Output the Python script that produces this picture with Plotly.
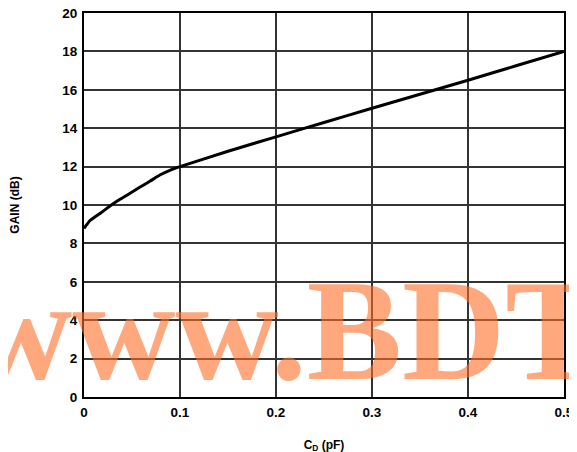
import plotly.graph_objects as go

cd_pf = [0, 0.006, 0.017, 0.027, 0.0375, 0.048, 0.058, 0.069, 0.079, 0.09, 0.1,
         0.15, 0.2, 0.25, 0.3, 0.35, 0.4, 0.45, 0.5]
gain_db = [8.78, 9.18, 9.57, 9.95, 10.3, 10.61, 10.92, 11.25, 11.56, 11.82, 12.0,
           12.8, 13.55, 14.3, 15.04, 15.77, 16.5, 17.25, 18.0]
x_ticks = [0, 0.1, 0.2, 0.3, 0.4, 0.5]
x_tick_labels = ["0", "0.1", "0.2", "0.3", "0.4", "0.5"]
y_ticks = list(range(0, 21, 2))

fig = go.Figure()
fig.add_trace(go.Scatter(x=cd_pf, y=gain_db, mode="lines",
                         line=dict(color="black", width=3, shape="spline", smoothing=0.3),
                         showlegend=False, hoverinfo="skip"))

tickfont = dict(family="Liberation Sans, Arial, sans-serif", size=13.5, color="black", weight="bold")
fig.update_layout(
    width=577, height=452,
    margin=dict(l=76, r=21, t=5, b=63),
    paper_bgcolor="white", plot_bgcolor="white",
    font=dict(family="Liberation Sans, Arial, sans-serif", size=13, color="black"),
    xaxis=dict(range=[0, 0.5], tickvals=x_ticks, ticktext=x_tick_labels,
               showgrid=True, gridcolor="#333333", gridwidth=1.5,
               showline=True, linecolor="black", linewidth=2, mirror=True,
               zeroline=False, ticks="", tickfont=tickfont, automargin=False,
               ticklabelstandoff=2, ticklabeloverflow="allow",
               title=dict(text="C<sub>D</sub> (pF)",
                          font=dict(size=12, weight="bold", family="Liberation Sans, Arial, sans-serif"),
                          standoff=21)),
    yaxis=dict(range=[0, 20], tickvals=y_ticks,
               showgrid=True, gridcolor="#333333", gridwidth=1.5,
               showline=True, linecolor="black", linewidth=2, mirror=True,
               zeroline=False, ticks="", tickfont=tickfont, automargin=False,
               ticklabelstandoff=2, ticklabeloverflow="allow",
               title=dict(text="GAIN (dB)",
                          font=dict(size=12, weight="bold", family="Liberation Sans, Arial, sans-serif"),
                          standoff=41)),
)

fig.add_annotation(text="<b>www.BDT</b>", xref="paper", yref="paper",
                   x=0.419, y=-0.039, xanchor="center", yanchor="bottom",
                   showarrow=False,
                   font=dict(family="Liberation Serif, Times New Roman, serif", size=143,
                             color="rgba(255,110,40,0.6)"))

fig.write_html("out.html")
